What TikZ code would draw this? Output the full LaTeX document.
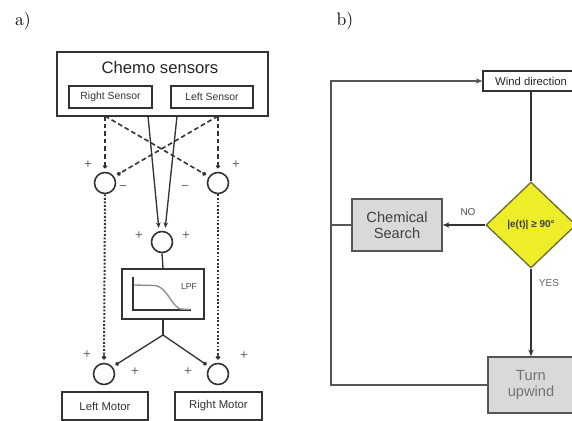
\documentclass[tikz,border=0pt]{standalone}
\usepackage{fontspec}
\setsansfont{Liberation Sans}
\usetikzlibrary{shapes.geometric,arrows.meta}
\definecolor{ln}{HTML}{333333}
\definecolor{gln}{HTML}{555555}
\definecolor{dyel}{HTML}{EDED2A}
\definecolor{dbord}{HTML}{6E6E30}
\definecolor{gbox}{HTML}{D9D9D9}
\begin{document}
\begin{tikzpicture}[x=0.75pt,y=-0.75pt,
  box/.style={draw=ln, line width=1.1pt, inner sep=0pt, font=\sffamily},
  sbox/.style={draw=ln, line width=0.9pt, inner sep=0pt, minimum height={22*0.75pt}, text=black!80,
     font=\sffamily\fontsize{7.8}{9}\selectfont},
  mbox/.style={draw=ln, line width=0.9pt, inner sep=0pt, minimum height={28*0.75pt}, text=black!80,
     font=\sffamily\fontsize{8.5}{9}\selectfont},
  sumc/.style={circle, draw=ln, line width=1.2pt, minimum size={21*0.75pt}, inner sep=0pt},
  dashln/.style={draw=ln, line width=1.2pt, dash pattern=on 3.5pt off 2.2pt},
  dotln/.style={draw=ln, line width=1.5pt, dash pattern=on 1.4pt off 1.3pt},
  solidln/.style={draw=ln, line width=1pt},
  dtip/.style={-{Circle[length=3pt]}, shorten >=2.5pt},
  atip/.style={-{Stealth[length=4pt,width=3.5pt]}, shorten >=2.5pt},
  sgn/.style={font=\sffamily\fontsize{10}{10}\selectfont, text=black!60, inner sep=0pt},
  loopln/.style={draw=gln, line width=1.4pt},
  ftip/.style={-{Stealth[length=5pt,width=4pt]}},
  lbl/.style={font=\fontsize{13.5}{15}\selectfont, inner sep=0pt}
]
\clip (0,0) rectangle (572,421);
\fill[white] (0,0) rectangle (572,421);

% ---------------- panel a ----------------
\node[lbl] (la) at (23,21) {a)};

\node[box, minimum width={211*0.75pt}, minimum height={64*0.75pt}] (chemo) at (162.5,84) {};
\node[font=\sffamily\fontsize{12.5}{14}\selectfont, text=black!85, inner sep=0pt] (chemot) at (160,68) {Chemo sensors};
\node[sbox, minimum width={83*0.75pt}] (rs) at (110.5,97) {Right Sensor};
\node[sbox, minimum width={82*0.75pt}] (ls) at (212,97) {Left Sensor};

\coordinate (s1) at (105,116);
\coordinate (s2) at (148,116);
\coordinate (s3) at (177,116);
\coordinate (s4) at (218,116);

\node[sumc] (cl) at (105,183) {};
\node[sumc] (cr) at (218,183) {};
\node[sumc] (cc) at (162,242) {};
\node[sumc] (bl) at (104,374) {};
\node[sumc] (br) at (218,374) {};

% sensor to side sums
\draw[dashln, dtip] (s1) -- (cl.north);
\draw[dashln, dtip] (s4) -- (cr.north);
\draw[dashln, dtip] (s1) -- (cr.145);
\draw[dashln, dtip] (s4) -- (cl.35);
% sensor to center sum
\draw[solidln, atip] (s2) -- (cc.105);
\draw[solidln, atip] (s3) -- (cc.75);

% signs upper
\node[sgn] (p1) at (88,165) {+};
\node[sgn] (p2) at (236,165) {+};
\node[sgn] (m1) at (123,188) {\textminus};
\node[sgn] (m2) at (185,188) {\textminus};
\node[sgn] (p3) at (139,236) {+};
\node[sgn] (p4) at (186,236) {+};

% LPF
\node[box, minimum width={82*0.75pt}, minimum height={50*0.75pt}] (lpf) at (163,294) {};
\draw[ln, line width=1pt] (133,277) -- (133,310) -- (191,310);
\draw[black!45, line width=1pt] (134,285) -- (155,285.5) .. controls (167,287) and (170,304) .. (180,309) -- (190,309.5);
\node[font=\sffamily\fontsize{6.5}{7}\selectfont, text=black!75, inner sep=0pt] (lpft) at (189,287) {LPF};

\draw[solidln] (cc.south) -- (lpf.north);
\coordinate (j) at (163,335);
\draw[solidln] (lpf.south) -- (j);
\draw[solidln, dtip] (j) -- (bl.40);
\draw[solidln, dtip] (j) -- (br.140);

% dotted down
\draw[dotln, dtip] (cl.south) -- (bl.north);
\draw[dotln, dtip] (cr.south) -- (br.north);

% signs lower
\node[sgn] (p5) at (87,355) {+};
\node[sgn] (p6) at (135,372) {+};
\node[sgn] (p7) at (188,372) {+};
\node[sgn] (p8) at (244,356) {+};

\node[mbox, minimum width={86*0.75pt}] (lm) at (105,406) {Left Motor};
\node[mbox, minimum width={87*0.75pt}] (rm) at (218.5,406) {Right Motor};

% ---------------- panel b ----------------
\node[lbl] (lb) at (345,21) {b)};

\node[draw=ln, line width=1pt, minimum width={96*0.75pt}, minimum height={20*0.75pt}, inner sep=0pt,
  font=\sffamily\fontsize{8.5}{9}\selectfont, text=black!85] (wind) at (531,81) {Wind direction};

\node[diamond, draw=dbord, line width=1pt, fill=dyel, minimum width={90*0.75pt}, minimum height={86*0.75pt},
  inner sep=1pt, font=\sffamily\bfseries\fontsize{7.5}{8}\selectfont, text=black!75] (dia) at (531,225) {|e(t)| ≥ 90°};

\node[draw=gln, line width=1.2pt, fill=gbox, minimum width={90*0.75pt}, minimum height={52*0.75pt}, inner sep=0pt,
  align=center, font=\sffamily\fontsize{11}{12}\selectfont, text=black!75] (cs) at (397,225) {Chemical\\Search};

\node[draw=gln, line width=1.2pt, fill=gbox, minimum width={86*0.75pt}, minimum height={56*0.75pt}, inner sep=0pt,
  align=center, font=\sffamily\fontsize{11}{12}\selectfont, text=black!55] (tu) at (531,385) {Turn\\upwind};

\coordinate (lc) at (331,0);

\draw[solidln] (wind.south) -- (dia.north);
\draw[solidln, ftip] (dia.west) -- (cs.east);
\draw[solidln, ftip] (dia.south) -- (tu.north);

\node[font=\sffamily\fontsize{7.5}{8}\selectfont, text=black!70, inner sep=0pt] (no) at (468,212) {NO};
\node[font=\sffamily\fontsize{7.5}{8}\selectfont, text=black!60, inner sep=0pt] (yes) at (549,283) {YES};

\draw[loopln, ftip] (tu.west) -- (tu.west -| lc) |- (wind.west);
\draw[loopln] (cs.west) -- (cs.west -| lc);
\end{tikzpicture}
\end{document}
